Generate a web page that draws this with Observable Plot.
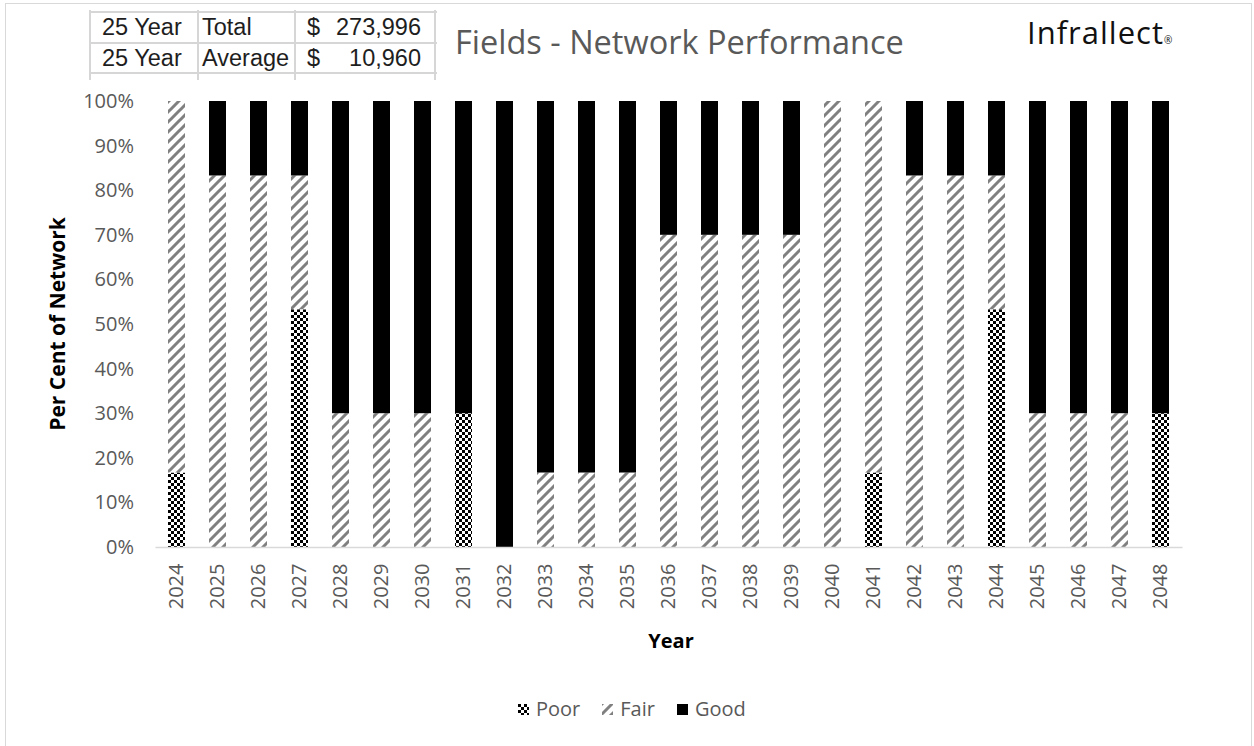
<!DOCTYPE html>
<html><head><meta charset="utf-8">
<script src="https://cdn.jsdelivr.net/npm/d3@7"></script>
<script src="https://cdn.jsdelivr.net/npm/@observablehq/plot@0.6"></script>
<style>
html,body{margin:0;padding:0;background:#fff}
body{width:1254px;height:746px;overflow:hidden;position:relative;font-family:"Open Sans",sans-serif}
#frame{position:absolute;left:5px;top:3px;width:1247px;height:800px;border:1.5px solid #d9d9d9;box-sizing:border-box}
#chart{position:absolute;left:0;top:0}
.abs{position:absolute;white-space:nowrap}
.gl{position:absolute;background:#d6d6d6}
.cell{position:absolute;font-family:"Liberation Sans",Arial,sans-serif;font-size:23.5px;color:#1e1e1e;line-height:31px;white-space:nowrap}
#title{left:455px;top:21px;font-size:32.5px;color:#595959;line-height:42px}
#logo{left:1027px;top:12px;font-size:31px;letter-spacing:1px;color:#111;line-height:40px}
#ytitle{left:57px;top:324px;transform:translate(-50%,-50%) rotate(-90deg);font-weight:bold;font-size:21px;color:#000}
#xtitle{left:671px;top:640px;transform:translate(-50%,-50%);font-weight:bold;font-size:20px;color:#000}
#legend{position:absolute;top:694px;left:518px;display:flex;align-items:center;font-size:20px;color:#595959;line-height:30px}
#legend .it{display:flex;align-items:center;margin-right:22px}
#legend svg{margin-right:7px}
</style></head><body>
<svg width="0" height="0" style="position:absolute">
<defs>
<pattern id="pPoor" width="6" height="6" patternUnits="userSpaceOnUse">
<rect width="6" height="6" fill="#fff"/><rect width="3" height="3" fill="#000"/><rect x="3" y="3" width="3" height="3" fill="#000"/>
</pattern>
<pattern id="pFair" width="10" height="10" patternUnits="userSpaceOnUse">
<rect width="10" height="10" fill="#fff"/>
<path d="M-3,3 L3,-3 M0,10 L10,0 M7,13 L13,7" stroke="#808080" stroke-width="3"/>
</pattern>
</defs>
</svg>
<div id="frame"></div>
<div id="chart"></div>
<div id="table"></div>
<div id="title" class="abs">Fields - Network Performance</div>
<div id="logo" class="abs">Infrallect<span style="font-size:10px;letter-spacing:0;vertical-align:baseline">®</span></div>
<div id="ytitle" class="abs">Per Cent of Network</div>
<div id="xtitle" class="abs">Year</div>
<div id="legend"></div>
<script>
// ---- data ----
const years = ["2024","2025","2026","2027","2028","2029","2030","2031","2032","2033","2034","2035","2036","2037","2038","2039","2040","2041","2042","2043","2044","2045","2046","2047","2048"];
const categories = ["Poor","Fair","Good"];
const poor = [16.7,0,0,53.3,0,0,0,30,0,0,0,0,0,0,0,0,0,16.7,0,0,53.3,0,0,0,30];
const fair = [83.3,83.3,83.3,30,30,30,30,0,0,16.7,16.7,16.7,70,70,70,70,100,83.3,83.3,83.3,30,30,30,30,0];
const good = [0,16.7,16.7,16.7,70,70,70,70,100,83.3,83.3,83.3,30,30,30,30,0,0,16.7,16.7,16.7,70,70,70,70];
const yTicks = [0,10,20,30,40,50,60,70,80,90,100];
const tableRows = [["25 Year","Total","$","273,996"],["25 Year","Average","$","10,960"]];
const fills = ["url(#pPoor)","url(#pFair)","#000000"];

const series = {Poor: poor, Fair: fair, Good: good};
const rows = [];
years.forEach((y,i) => categories.forEach(c => rows.push({year:y, cat:c, v:series[c][i]})));

const chart = Plot.plot({
  width:1254, height:660,
  marginTop:101, marginBottom:113, marginLeft:155.5, marginRight:71.5,
  style:{fontFamily:"'Open Sans',sans-serif", fontSize:"20px", color:"#595959", background:"transparent", overflow:"visible"},
  x:{domain:years, paddingInner:0.585, paddingOuter:0.2925, label:null, tickSize:0, tickPadding:16, tickRotate:-90},
  y:{domain:[0,100], ticks:yTicks, tickFormat:d => d + "%", label:null, tickSize:0, tickPadding:22},
  color:{type:"ordinal", domain:categories, range:fills},
  marks:[
    Plot.barY(rows, {x:"year", y:"v", fill:"cat"}),
    Plot.ruleY([0], {stroke:"#d9d9d9", strokeWidth:1.5})
  ]
});
document.getElementById("chart").appendChild(chart);

// table (spreadsheet cells)
const T = document.getElementById("table");
const colX = [90,198,295,435];
const rowY = [12,43,73];
colX.forEach(x => { const d=document.createElement("div"); d.className="gl"; Object.assign(d.style,{left:(x-1)+"px",top:"10px",width:"2px",height:"70px"}); T.appendChild(d); });
rowY.forEach(y => { const d=document.createElement("div"); d.className="gl"; Object.assign(d.style,{left:"90px",top:(y-1)+"px",width:"347px",height:"2px"}); T.appendChild(d); });
tableRows.forEach((r,i) => {
  const top = rowY[i];
  const a=document.createElement("div"); a.className="cell"; a.textContent=r[0]; Object.assign(a.style,{left:"102px",top:top+"px"}); T.appendChild(a);
  const b=document.createElement("div"); b.className="cell"; b.textContent=r[1]; Object.assign(b.style,{left:"202px",top:top+"px"}); T.appendChild(b);
  const c=document.createElement("div"); c.className="cell"; c.textContent=r[2]; Object.assign(c.style,{left:"307px",top:top+"px"}); T.appendChild(c);
  const n=document.createElement("div"); n.className="cell"; n.textContent=r[3]; Object.assign(n.style,{right:(1254-421)+"px",top:top+"px"}); T.appendChild(n);
});

// legend
const L = document.getElementById("legend");
categories.forEach((c,i) => {
  const it = document.createElement("div"); it.className="it";
  it.innerHTML = `<svg width="11" height="11"><rect width="11" height="11" fill="${fills[i]}"/></svg><span>${c}</span>`;
  L.appendChild(it);
});
</script>
</body></html>
